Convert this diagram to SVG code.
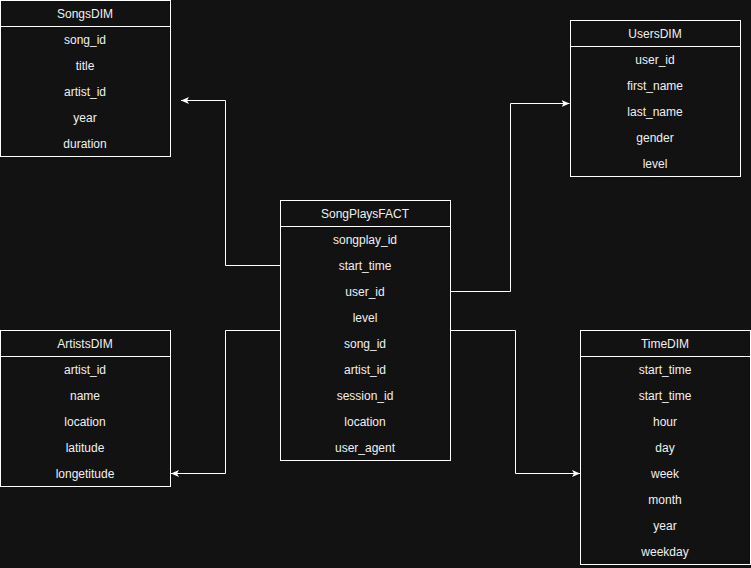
<svg xmlns="http://www.w3.org/2000/svg" width="751" height="568" viewBox="0 0 751 568">
<style>
.tb{fill:#121212;stroke:#ffffff;stroke-width:1}
.ln{stroke:#ffffff;stroke-width:1;fill:none}
text{font-family:"Liberation Sans",Arial,Helvetica,sans-serif;font-size:12px;fill:#f0f0f0;text-anchor:middle}
.cn{stroke:#ffffff;stroke-width:1;fill:none;marker-end:url(#arr)}
</style>
<defs>
<marker id="arr" markerUnits="userSpaceOnUse" markerWidth="10" markerHeight="10" refX="8" refY="3.5" orient="auto">
<path d="M0,0 L8,3.5 L0,7 L2,3.5 Z" fill="#ffffff"/>
</marker>
</defs>
<rect width="751" height="568" fill="#121212"/>
<g id="connectors">
<path class="cn" d="M280.5,265.5 H225.5 V100.5 H181"/>
<path class="cn" d="M450.5,291.5 H510.5 V103.5 H569.5"/>
<path class="cn" d="M280.5,330.5 H225.5 V473.5 H171"/>
<path class="cn" d="M450.5,330.5 H515.5 V473.5 H580"/>
</g>
<g id="SongsDIM">
<rect class="tb" x="0.5" y="0.5" width="170" height="156"/>
<line class="ln" x1="0.5" y1="26.5" x2="170.5" y2="26.5"/>
<text x="85" y="18">SongsDIM</text>
<text x="85" y="44">song_id</text>
<text x="85" y="70">title</text>
<text x="85" y="96">artist_id</text>
<text x="85" y="122">year</text>
<text x="85" y="148">duration</text>
</g>
<g id="UsersDIM">
<rect class="tb" x="570.5" y="20.5" width="170" height="156"/>
<line class="ln" x1="570.5" y1="46.5" x2="740.5" y2="46.5"/>
<text x="655" y="38">UsersDIM</text>
<text x="655" y="64">user_id</text>
<text x="655" y="90">first_name</text>
<text x="655" y="116">last_name</text>
<text x="655" y="142">gender</text>
<text x="655" y="168">level</text>
</g>
<g id="SongPlaysFACT">
<rect class="tb" x="280.5" y="200.5" width="170" height="260"/>
<line class="ln" x1="280.5" y1="226.5" x2="450.5" y2="226.5"/>
<text x="365" y="218">SongPlaysFACT</text>
<text x="365" y="244">songplay_id</text>
<text x="365" y="270">start_time</text>
<text x="365" y="296">user_id</text>
<text x="365" y="322">level</text>
<text x="365" y="348">song_id</text>
<text x="365" y="374">artist_id</text>
<text x="365" y="400">session_id</text>
<text x="365" y="426">location</text>
<text x="365" y="452">user_agent</text>
</g>
<g id="ArtistsDIM">
<rect class="tb" x="0.5" y="330.5" width="170" height="156"/>
<line class="ln" x1="0.5" y1="356.5" x2="170.5" y2="356.5"/>
<text x="85" y="348">ArtistsDIM</text>
<text x="85" y="374">artist_id</text>
<text x="85" y="400">name</text>
<text x="85" y="426">location</text>
<text x="85" y="452">latitude</text>
<text x="85" y="478">longetitude</text>
</g>
<g id="TimeDIM">
<rect class="tb" x="580.5" y="330.5" width="170" height="234"/>
<line class="ln" x1="580.5" y1="356.5" x2="750.5" y2="356.5"/>
<text x="665" y="348">TimeDIM</text>
<text x="665" y="374">start_time</text>
<text x="665" y="400">start_time</text>
<text x="665" y="426">hour</text>
<text x="665" y="452">day</text>
<text x="665" y="478">week</text>
<text x="665" y="504">month</text>
<text x="665" y="530">year</text>
<text x="665" y="556">weekday</text>
</g>
</svg>
